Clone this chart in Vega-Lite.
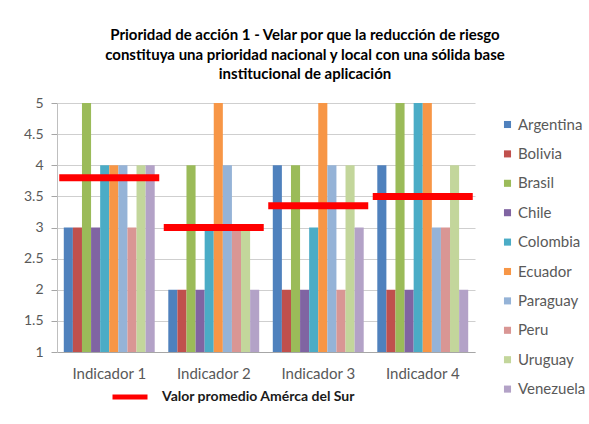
{
  "$schema": "https://vega.github.io/schema/vega-lite/v6.json",
  "autosize": "none",
  "width": 418,
  "height": 249,
  "padding": {"left": 57, "top": 103, "right": 114, "bottom": 72},
  "background": "white",
  "title": {
    "text": ["Prioridad  de acción 1 - Velar por que la reducción de riesgo", "constituya una prioridad  nacional y local con una sólida base", "institucional  de aplicación"],
    "font": "Lato",
    "fontSize": 15,
    "fontWeight": "bold",
    "color": "#000000",
    "anchor": "middle",
    "dx": 39,
    "offset": 14,
    "lineHeight": 19.5
  },
  "config": {
    "font": "Lato",
    "view": {"stroke": null},
    "axis": {"labelFont": "Lato", "labelColor": "#595959", "domainColor": "#A6A6A6", "tickColor": "#A6A6A6"}
  },
  "datasets": {
    "paises": [
      {"Indicador": "Indicador 1", "País": "Argentina", "Valor": 3},
      {"Indicador": "Indicador 1", "País": "Bolivia", "Valor": 3},
      {"Indicador": "Indicador 1", "País": "Brasil", "Valor": 5},
      {"Indicador": "Indicador 1", "País": "Chile", "Valor": 3},
      {"Indicador": "Indicador 1", "País": "Colombia", "Valor": 4},
      {"Indicador": "Indicador 1", "País": "Ecuador", "Valor": 4},
      {"Indicador": "Indicador 1", "País": "Paraguay", "Valor": 4},
      {"Indicador": "Indicador 1", "País": "Peru", "Valor": 3},
      {"Indicador": "Indicador 1", "País": "Uruguay", "Valor": 4},
      {"Indicador": "Indicador 1", "País": "Venezuela", "Valor": 4},
      {"Indicador": "Indicador 2", "País": "Argentina", "Valor": 2},
      {"Indicador": "Indicador 2", "País": "Bolivia", "Valor": 2},
      {"Indicador": "Indicador 2", "País": "Brasil", "Valor": 4},
      {"Indicador": "Indicador 2", "País": "Chile", "Valor": 2},
      {"Indicador": "Indicador 2", "País": "Colombia", "Valor": 3},
      {"Indicador": "Indicador 2", "País": "Ecuador", "Valor": 5},
      {"Indicador": "Indicador 2", "País": "Paraguay", "Valor": 4},
      {"Indicador": "Indicador 2", "País": "Peru", "Valor": 3},
      {"Indicador": "Indicador 2", "País": "Uruguay", "Valor": 3},
      {"Indicador": "Indicador 2", "País": "Venezuela", "Valor": 2},
      {"Indicador": "Indicador 3", "País": "Argentina", "Valor": 4},
      {"Indicador": "Indicador 3", "País": "Bolivia", "Valor": 2},
      {"Indicador": "Indicador 3", "País": "Brasil", "Valor": 4},
      {"Indicador": "Indicador 3", "País": "Chile", "Valor": 2},
      {"Indicador": "Indicador 3", "País": "Colombia", "Valor": 3},
      {"Indicador": "Indicador 3", "País": "Ecuador", "Valor": 5},
      {"Indicador": "Indicador 3", "País": "Paraguay", "Valor": 4},
      {"Indicador": "Indicador 3", "País": "Peru", "Valor": 2},
      {"Indicador": "Indicador 3", "País": "Uruguay", "Valor": 4},
      {"Indicador": "Indicador 3", "País": "Venezuela", "Valor": 3},
      {"Indicador": "Indicador 4", "País": "Argentina", "Valor": 4},
      {"Indicador": "Indicador 4", "País": "Bolivia", "Valor": 2},
      {"Indicador": "Indicador 4", "País": "Brasil", "Valor": 5},
      {"Indicador": "Indicador 4", "País": "Chile", "Valor": 2},
      {"Indicador": "Indicador 4", "País": "Colombia", "Valor": 5},
      {"Indicador": "Indicador 4", "País": "Ecuador", "Valor": 5},
      {"Indicador": "Indicador 4", "País": "Paraguay", "Valor": 3},
      {"Indicador": "Indicador 4", "País": "Peru", "Valor": 3},
      {"Indicador": "Indicador 4", "País": "Uruguay", "Valor": 4},
      {"Indicador": "Indicador 4", "País": "Venezuela", "Valor": 2}
    ],
    "promedio": [
      {"Indicador": "Indicador 1", "Serie": "Valor promedio Amérca del Sur", "Valor": 3.8},
      {"Indicador": "Indicador 2", "Serie": "Valor promedio Amérca del Sur", "Valor": 3.0},
      {"Indicador": "Indicador 3", "Serie": "Valor promedio Amérca del Sur", "Valor": 3.35},
      {"Indicador": "Indicador 4", "Serie": "Valor promedio Amérca del Sur", "Valor": 3.5}
    ]
  },
  "layer": [
    {
      "data": {"name": "paises"},
      "mark": {"type": "bar"},
      "encoding": {
        "x": {
          "field": "Indicador", "type": "nominal",
          "scale": {"paddingInner": 0.13, "paddingOuter": 0.065},
          "axis": {"title": null, "labelAngle": 0, "labelFontSize": 15, "labelPadding": 14, "ticks": false, "grid": false, "domainColor": "#A6A6A6"}
        },
        "xOffset": {"field": "País", "type": "nominal", "sort": ["Argentina", "Bolivia", "Brasil", "Chile", "Colombia", "Ecuador", "Paraguay", "Peru", "Uruguay", "Venezuela"]},
        "y": {
          "field": "Valor", "type": "quantitative",
          "scale": {"domain": [1, 5], "zero": false, "nice": false},
          "axis": {"title": null, "values": [1, 1.5, 2, 2.5, 3, 3.5, 4, 4.5, 5], "format": "~g", "labelOverlap": false, "labelFontSize": 14, "tickSize": 6, "labelPadding": 8, "gridColor": "#CFCFCF", "domainColor": "#BFBFBF"}
        },
        "y2": {"datum": 1},
        "color": {
          "field": "País", "type": "nominal",
          "scale": {
            "domain": ["Argentina", "Bolivia", "Brasil", "Chile", "Colombia", "Ecuador", "Paraguay", "Peru", "Uruguay", "Venezuela"],
            "range": ["#4F81BD", "#C0504D", "#9BBB59", "#8064A2", "#4BACC6", "#F79646", "#95B3D7", "#D99694", "#C3D69B", "#B3A2C7"]
          },
          "legend": {
            "title": null, "orient": "none", "legendX": 443, "legendY": 14,
            "symbolType": "square", "symbolSize": 50, "symbolStrokeWidth": 0,
            "labelFont": "Lato", "labelFontSize": 15, "labelColor": "#595959",
            "rowPadding": 13.4, "labelOffset": 3, "labelLimit": 0
          }
        }
      }
    },
    {
      "data": {"name": "promedio"},
      "mark": {"type": "tick", "thickness": 7, "size": 100, "opacity": 1},
      "encoding": {
        "x": {"field": "Indicador", "type": "nominal"},
        "y": {
          "field": "Valor", "type": "quantitative",
          "axis": {"title": null, "values": [1, 1.5, 2, 2.5, 3, 3.5, 4, 4.5, 5], "format": "~g", "labelOverlap": false, "labelFontSize": 14, "tickSize": 6, "labelPadding": 8, "gridColor": "#CFCFCF", "domainColor": "#BFBFBF"}
        },
        "color": {
          "field": "Serie", "type": "nominal",
          "scale": {"range": ["#FF0000"]},
          "legend": {
            "title": null, "orient": "none", "legendX": 53, "legendY": 274,
            "symbolType": "stroke", "symbolSize": 1225, "symbolStrokeWidth": 5,
            "symbolStrokeColor": "#FF0000", "symbolFillColor": "#FF0000", "symbolOpacity": 1,
            "labelFont": "Lato", "labelFontSize": 14, "labelFontWeight": "bold", "labelColor": "#1A1A1A",
            "labelOffset": 12, "labelLimit": 0
          }
        }
      }
    }
  ],
  "resolve": {"scale": {"color": "independent"}, "legend": {"color": "independent"}}
}
